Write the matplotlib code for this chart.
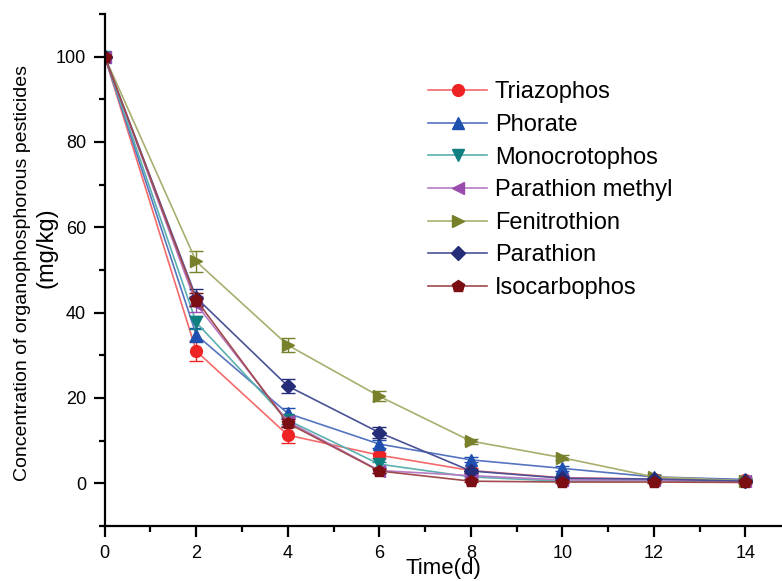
import matplotlib
matplotlib.use("Agg")
import matplotlib.pyplot as plt
from matplotlib.ticker import MultipleLocator

plt.rcParams['font.family'] = ['Liberation Sans', 'DejaVu Sans']

# sampling days
days = [0, 2, 4, 6, 8, 10, 12, 14]

names = ["Triazophos", "Phorate", "Monocrotophos", "Parathion methyl",
         "Fenitrothion", "Parathion", "Isocarbophos"]

# concentrations (mg/kg)
triazophos = [100, 31.0, 11.3, 6.6, 3.0, 1.3, 1.0, 0.8]
phorate = [100, 34.8, 16.4, 9.2, 5.5, 3.5, 1.5, 0.9]
monocrotophos = [100, 37.7, 14.8, 4.5, 1.5, 0.5, 0.6, 0.4]
parathion_methyl = [100, 42.0, 14.5, 3.0, 1.8, 0.8, 0.8, 0.5]
fenitrothion = [100, 52.0, 32.4, 20.4, 9.9, 6.0, 1.5, 0.6]
parathion = [100, 43.5, 22.8, 11.9, 2.9, 1.2, 1.0, 0.5]
isocarbophos = [100, 43.0, 14.1, 2.9, 0.5, 0.3, 0.3, 0.2]

# standard deviations
triazophos_err = [0, 2.3, 1.8, 0.6, 0.5, 0.4, 0.3, 0.2]
phorate_err = [0, 1.6, 1.2, 0.9, 0.6, 0.5, 0.4, 0.3]
monocrotophos_err = [0, 1.5, 1.0, 0.6, 0.4, 0.3, 0.3, 0.2]
parathion_methyl_err = [0, 1.8, 1.0, 0.6, 0.4, 0.3, 0.3, 0.2]
fenitrothion_err = [0, 2.5, 1.7, 1.2, 0.6, 0.6, 0.4, 0.3]
parathion_err = [0, 2.0, 1.6, 1.3, 0.5, 0.4, 0.3, 0.3]
isocarbophos_err = [0, 1.5, 1.0, 0.5, 0.3, 0.3, 0.3, 0.2]

series = [triazophos, phorate, monocrotophos, parathion_methyl,
          fenitrothion, parathion, isocarbophos]
errors = [triazophos_err, phorate_err, monocrotophos_err, parathion_methyl_err,
          fenitrothion_err, parathion_err, isocarbophos_err]

marker_colors = ["#EE2424", "#1F4FAF", "#0F7F7F", "#9A4DAE",
                 "#78802C", "#252D78", "#7A0E12"]
line_colors = ["#F46A6A", "#5574C0", "#5AB0AE", "#B87CC6",
               "#A9AE6E", "#4A5196", "#A04A4D"]
markers = ["o", "^", "v", "<", ">", "D", "p"]
msizes = [8.5, 8.5, 8.5, 8.5, 8.5, 7, 9]

fig = plt.figure(figsize=(7.82, 5.81), dpi=100)
ax = fig.add_axes([0.1339, 0.0947, 0.8661, 0.8812])

for i in range(len(names)):
    ax.errorbar(days, series[i], yerr=errors[i], fmt='none',
                ecolor=marker_colors[i], elinewidth=1, capsize=5, capthick=1)
    ax.plot(days, series[i], color=line_colors[i], linewidth=1.2,
            marker=markers[i], markersize=msizes[i],
            markerfacecolor=marker_colors[i], markeredgecolor=marker_colors[i],
            label=names[i])

ax.set_xlim(0, 14.8)
ax.set_ylim(-10, 110)
ax.xaxis.set_major_locator(MultipleLocator(2))
ax.xaxis.set_minor_locator(MultipleLocator(1))
ax.yaxis.set_major_locator(MultipleLocator(20))
ax.yaxis.set_minor_locator(MultipleLocator(10))
ax.set_yticks([0, 20, 40, 60, 80, 100])
ax.spines['top'].set_visible(False)
ax.spines['right'].set_visible(False)
ax.spines['left'].set_linewidth(1.6)
ax.spines['bottom'].set_linewidth(1.6)
ax.tick_params(which='major', direction='out', length=8, width=1.6,
               labelsize=13, pad=5.5)
ax.tick_params(which='minor', direction='out', length=4, width=1.6)

ax.set_xlabel("Time(d)", fontsize=16, labelpad=-3)
fig.text(0.029, 0.53, "Concentration of organophosphorous pesticides",
         rotation=90, ha='center', va='center', fontsize=14)
fig.text(0.060, 0.573, "(mg/kg)", rotation=90, ha='center', va='center',
         fontsize=17)

leg = ax.legend(loc='upper left', bbox_to_anchor=(0.446, 0.91), frameon=False,
                fontsize=17, handlelength=2.5, labelspacing=0.45,
                handletextpad=0.33)

fig.savefig("out.png", dpi=100)
